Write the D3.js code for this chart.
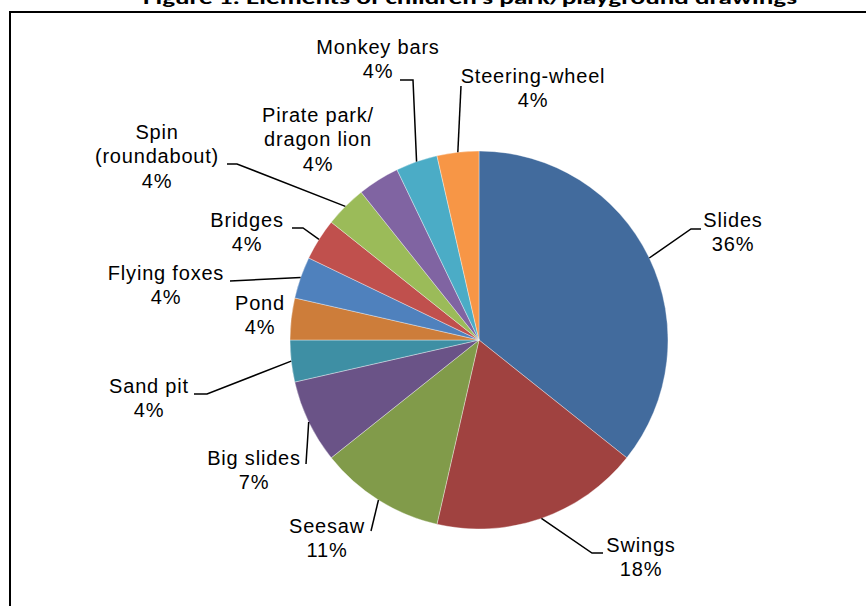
<!DOCTYPE html>
<html>
<head>
<meta charset="utf-8">
<script src="https://cdn.jsdelivr.net/npm/d3@7"></script>
<style>
  html, body { margin: 0; padding: 0; background: #fff; }
  svg { display: block; }
</style>
</head>
<body>
<svg id="chart" width="866" height="606"></svg>
<script>
// ---- Data (counts of drawings; percentages computed) ----
const title = "Figure 1: Elements of children's park/playground drawings";
const categories = ["Slides", "Swings", "Seesaw", "Big slides", "Sand pit", "Pond",
  "Flying foxes", "Bridges", "Spin (roundabout)", "Pirate park/ dragon lion", "Monkey bars", "Steering-wheel"];
const counts = [10, 5, 3, 2, 1, 1, 1, 1, 1, 1, 1, 1];
const labelLines = [["Slides"], ["Swings"], ["Seesaw"], ["Big slides"], ["Sand pit"], ["Pond"],
  ["Flying foxes"], ["Bridges"], ["Spin", "(roundabout)"], ["Pirate park/", "dragon lion"], ["Monkey bars"], ["Steering-wheel"]];
const colors = ["#426B9D", "#A04240", "#819B4A", "#6A5387", "#3E8FA4", "#CD7D3A",
  "#4F81BD", "#C0504D", "#9BBB59", "#8064A2", "#4BACC6", "#F79646"];

// ---- Layout (label placement: text centre x, first baseline y, leader bend points) ----
const labelLayout = [
  { x: 733, y: 227, leader: [[691, 229], [701, 229]] },
  { x: 641, y: 552, leader: [[592, 553], [603, 553]] },
  { x: 327, y: 533, leader: [[371, 531]] },
  { x: 254, y: 465, leader: [[306, 464]] },
  { x: 149, y: 393, leader: [[207, 394], [194, 394]] },
  { x: 260, y: 310, leader: null },
  { x: 166, y: 280, leader: [[230, 281]] },
  { x: 247, y: 227, leader: [[303, 228], [292, 228]] },
  { x: 157, y: 139, leader: [[237, 164], [227, 164]] },
  { x: 318, y: 122, leader: null },
  { x: 378, y: 54,  leader: [[413, 80], [400, 80]] },
  { x: 533, y: 83,  leader: [[461, 86]] }
];

const W = 866, H = 606;
const cx = 479, cy = 340, R = 189;
const svg = d3.select("#chart");

// frame
svg.append("rect")
  .attr("x", 10).attr("y", 12)
  .attr("width", 900).attr("height", 700)
  .attr("fill", "none").attr("stroke", "#000").attr("stroke-width", 2);

// title (clipped at the top as in the reference)
svg.append("text")
  .attr("x", 470).attr("y", 4)
  .attr("text-anchor", "middle")
  .attr("font-family", "Carlito, 'Liberation Sans', Arial, sans-serif")
  .attr("font-weight", "bold")
  .attr("font-size", 19)
  .attr("textLength", 654)
  .attr("lengthAdjust", "spacingAndGlyphs")
  .text(title);

const total = d3.sum(counts);
const data = categories.map((c, i) => ({ name: c, value: counts[i], i }));

const pie = d3.pie().value(d => d.value).sort(null).startAngle(0).endAngle(2 * Math.PI);
const arcs = pie(data);
const arc = d3.arc().innerRadius(0).outerRadius(R);
const edgeArc = d3.arc().innerRadius(R).outerRadius(R);

const g = svg.append("g").attr("transform", `translate(${cx},${cy})`);
g.selectAll("path.slice")
  .data(arcs)
  .enter().append("path")
  .attr("class", "slice")
  .attr("d", arc)
  .attr("fill", d => colors[d.data.i])
  .attr("stroke", "#ffffff")
  .attr("stroke-opacity", 0.6)
  .attr("stroke-width", 0.6);

// leaders
const line = d3.line();
arcs.forEach(a => {
  const L = labelLayout[a.data.i];
  if (!L.leader) return;
  const c = edgeArc.centroid(a);
  const pts = [[cx + c[0], cy + c[1]]].concat(L.leader);
  svg.append("path")
    .attr("d", line(pts))
    .attr("fill", "none")
    .attr("stroke", "#000")
    .attr("stroke-width", 1.5);
});

// labels
arcs.forEach(a => {
  const i = a.data.i;
  const L = labelLayout[i];
  const pct = Math.round(a.data.value / total * 100) + "%";
  const lines = labelLines[i].concat([pct]);
  const t = svg.append("text")
    .attr("text-anchor", "middle")
    .attr("font-family", "'Liberation Sans', Arial, sans-serif")
    .attr("font-size", 20)
    .attr("letter-spacing", 0.8)
    .attr("fill", "#000");
  lines.forEach((s, k) => {
    t.append("tspan").attr("x", L.x).attr("y", L.y + k * 24.3).text(s);
  });
});
</script>
</body>
</html>
